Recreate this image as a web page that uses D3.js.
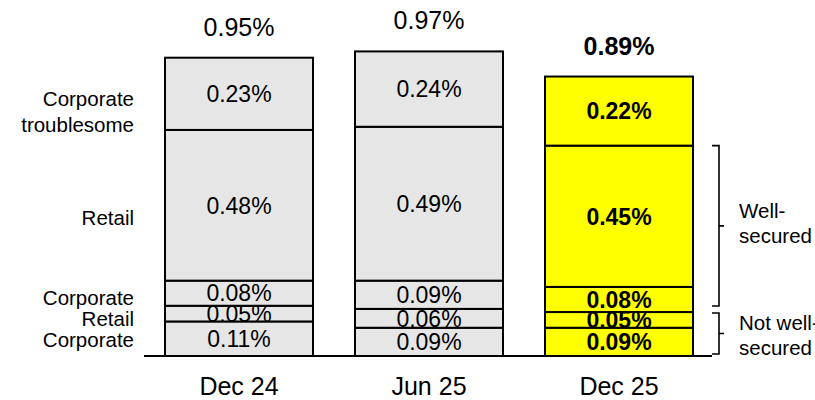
<!DOCTYPE html>
<html><head><meta charset="utf-8">
<script src="https://cdn.jsdelivr.net/npm/d3@7"></script>
<style>body{margin:0;background:#fff}svg{display:block;font-family:"Liberation Sans",Arial,sans-serif}</style>
</head><body><svg id="c" width="815" height="400"></svg>
<script>
const categories = ["Dec 24", "Jun 25", "Dec 25"];
const segmentNames = ["Corporate NWS", "Retail NWS", "Corporate WS", "Retail WS", "Corporate troublesome"];
const corporateNWS = [0.11, 0.09, 0.09];
const retailNWS = [0.05, 0.06, 0.05];
const corporateWS = [0.08, 0.09, 0.08];
const retailWS = [0.48, 0.49, 0.45];
const corpTroublesome = [0.23, 0.24, 0.22];
const totals = [0.95, 0.97, 0.89];
const leftLabels = [["Corporate"], ["Retail"], ["Corporate"], ["Retail"], ["Corporate", "troublesome"]];
const bracketLabels = [["Well-", "secured"], ["Not well-", "secured"]];

const series = [corporateNWS, retailNWS, corporateWS, retailWS, corpTroublesome];
const data = categories.map((c, i) => {
  const o = {cat: c};
  segmentNames.forEach((s, j) => o[s] = series[j][i]);
  return o;
});
const stack = d3.stack().keys(segmentNames)(data);

const svg = d3.select("#c");
const x2 = d3.scaleBand().domain(categories).range([165, 693]).paddingInner(42 / 190).paddingOuter(0);
const y = d3.scaleLinear().domain([0, 1]).range([356, 42]);

const fills = ["#e6e6e6", "#e6e6e6", "#ffff00"];
const bold = [false, false, true];

stack.forEach((layer, li) => {
  layer.forEach((d, i) => {
    svg.append("rect")
      .attr("x", x2(categories[i]))
      .attr("y", y(d[1]))
      .attr("width", x2.bandwidth())
      .attr("height", y(d[0]) - y(d[1]))
      .attr("fill", fills[i])
      .attr("stroke", "#000")
      .attr("stroke-width", 2);
  });
});
stack.forEach((layer, li) => {
  layer.forEach((d, i) => {
    svg.append("text")
      .attr("x", x2(categories[i]) + x2.bandwidth() / 2)
      .attr("y", (y(d[0]) + y(d[1])) / 2)
      .attr("dy", "0.36em")
      .attr("text-anchor", "middle")
      .attr("font-size", 23)
      .attr("font-weight", bold[i] ? "bold" : "normal")
      .attr("fill", "#000")
      .text(series[li][i].toFixed(2) + "%");
  });
});

// totals
categories.forEach((c, i) => {
  svg.append("text")
    .attr("x", x2(c) + x2.bandwidth() / 2)
    .attr("y", y(totals[i]) - 31)
    .attr("dy", "0.36em")
    .attr("text-anchor", "middle")
    .attr("font-size", 25)
    .attr("font-weight", bold[i] ? "bold" : "normal")
    .text(totals[i].toFixed(2) + "%");
});

// baseline
svg.append("line").attr("x1", 144).attr("x2", 712).attr("y1", y(0)).attr("y2", y(0))
  .attr("stroke", "#000").attr("stroke-width", 2);

// category axis labels
const xAxis = d3.axisBottom(x2).tickSize(0).tickPadding(19);
const gx = svg.append("g").attr("transform", `translate(0,${y(0) + 2})`).call(xAxis);
gx.select(".domain").remove();
gx.selectAll("text").attr("font-size", 25).attr("font-family", "Liberation Sans, Arial, sans-serif").attr("fill", "#000");

// left labels, positioned at Dec 24 segment centres
const s0 = stack.map(l => l[0]);
const offs = [1, 5, 4, 12, 18];
leftLabels.forEach((lines, li) => {
  const d = s0[li];
  const cy = (y(d[0]) + y(d[1])) / 2 + offs[li];
  const t = svg.append("text").attr("text-anchor", "end").attr("font-size", 20.5).attr("fill", "#000");
  lines.forEach((ln, k) => {
    t.append("tspan").attr("x", 134)
      .attr("y", cy + (k - (lines.length - 1) / 2) * 26)
      .attr("dy", "0.36em").text(ln);
  });
});

// brackets for last bar
const last = 2;
const wsTop = y(stack[3][last][1]);
const wsBot = y(stack[2][last][0]) - 6;
const nwsTop = y(stack[1][last][1]) + 1;
const nwsBot = y(0) - 2;
const bx = 719;
[[wsTop, wsBot], [nwsTop, nwsBot]].forEach(([t, b], k) => {
  const m = (t + b) / 2;
  svg.append("path")
    .attr("d", `M${bx - 7},${t}H${bx}V${b}H${bx - 7}M${bx},${m}H${bx + 5}`)
    .attr("fill", "none").attr("stroke", "#000").attr("stroke-width", 1.6);
  const tx = svg.append("text").attr("font-size", 20.5).attr("fill", "#000");
  bracketLabels[k].forEach((ln, j) => {
    tx.append("tspan").attr("x", 739).attr("y", m + (j - 0.5) * 25 + (k === 0 ? -3 : 2)).attr("dy", "0.36em").text(ln);
  });
});
</script></body></html>
